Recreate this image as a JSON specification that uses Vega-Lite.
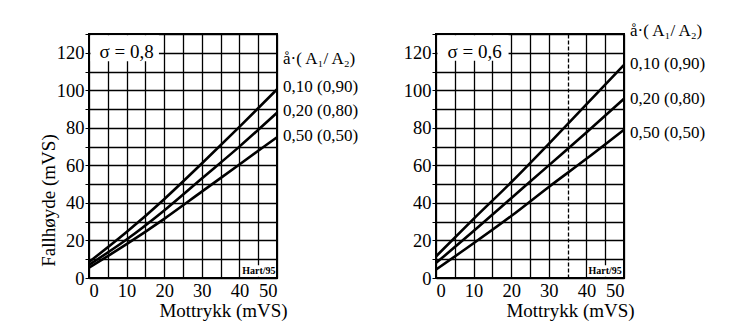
{
  "$schema": "https://vega.github.io/schema/vega-lite/v6.json",
  "background": "white",
  "padding": {"left": 38, "top": 21, "right": 5, "bottom": 5},
  "bounds": "flush",
  "spacing": 159,
  "config": {
    "font": "Liberation Serif",
    "view": {"stroke": "black", "strokeWidth": 2},
    "axis": {
      "labelFont": "Liberation Serif",
      "titleFont": "Liberation Serif",
      "labelFontSize": 18.5,
      "titleFontSize": 19,
      "titleFontWeight": "normal",
      "labelColor": "black",
      "titleColor": "black",
      "gridColor": "black",
      "gridOpacity": 1,
      "gridWidth": 1.3,
      "domain": false,
      "tickColor": "black"
    }
  },
  "datasets": {
    "curves": [
      {"panel": "L", "serie": "0,10 (0,90)", "x": 0, "y": 8.5},
      {"panel": "L", "serie": "0,10 (0,90)", "x": 10, "y": 24.5},
      {"panel": "L", "serie": "0,10 (0,90)", "x": 20, "y": 42},
      {"panel": "L", "serie": "0,10 (0,90)", "x": 30, "y": 61},
      {"panel": "L", "serie": "0,10 (0,90)", "x": 40, "y": 80.5},
      {"panel": "L", "serie": "0,10 (0,90)", "x": 50, "y": 100.5},
      {"panel": "L", "serie": "0,20 (0,80)", "x": 0, "y": 7},
      {"panel": "L", "serie": "0,20 (0,80)", "x": 10, "y": 20.5},
      {"panel": "L", "serie": "0,20 (0,80)", "x": 20, "y": 36},
      {"panel": "L", "serie": "0,20 (0,80)", "x": 30, "y": 53},
      {"panel": "L", "serie": "0,20 (0,80)", "x": 40, "y": 70},
      {"panel": "L", "serie": "0,20 (0,80)", "x": 50, "y": 88},
      {"panel": "L", "serie": "0,50 (0,50)", "x": 0, "y": 5.5},
      {"panel": "L", "serie": "0,50 (0,50)", "x": 10, "y": 18},
      {"panel": "L", "serie": "0,50 (0,50)", "x": 20, "y": 31.5},
      {"panel": "L", "serie": "0,50 (0,50)", "x": 30, "y": 46},
      {"panel": "L", "serie": "0,50 (0,50)", "x": 40, "y": 60.5},
      {"panel": "L", "serie": "0,50 (0,50)", "x": 50, "y": 75},
      {"panel": "R", "serie": "0,10 (0,90)", "x": 0, "y": 11.5},
      {"panel": "R", "serie": "0,10 (0,90)", "x": 10, "y": 31.5},
      {"panel": "R", "serie": "0,10 (0,90)", "x": 20, "y": 51},
      {"panel": "R", "serie": "0,10 (0,90)", "x": 30, "y": 71.5},
      {"panel": "R", "serie": "0,10 (0,90)", "x": 40, "y": 92.5},
      {"panel": "R", "serie": "0,10 (0,90)", "x": 50, "y": 113.5},
      {"panel": "R", "serie": "0,20 (0,80)", "x": 0, "y": 8},
      {"panel": "R", "serie": "0,20 (0,80)", "x": 10, "y": 25},
      {"panel": "R", "serie": "0,20 (0,80)", "x": 20, "y": 42.5},
      {"panel": "R", "serie": "0,20 (0,80)", "x": 30, "y": 60},
      {"panel": "R", "serie": "0,20 (0,80)", "x": 40, "y": 77.5},
      {"panel": "R", "serie": "0,20 (0,80)", "x": 50, "y": 95.5},
      {"panel": "R", "serie": "0,50 (0,50)", "x": 0, "y": 4.5},
      {"panel": "R", "serie": "0,50 (0,50)", "x": 10, "y": 18.5},
      {"panel": "R", "serie": "0,50 (0,50)", "x": 20, "y": 33},
      {"panel": "R", "serie": "0,50 (0,50)", "x": 30, "y": 48.5},
      {"panel": "R", "serie": "0,50 (0,50)", "x": 40, "y": 63.5},
      {"panel": "R", "serie": "0,50 (0,50)", "x": 50, "y": 79}
    ],
    "boxes": [
      {"panel": "L", "x": 0.4, "x2": 18.6, "y": 115.5, "y2": 129.4},
      {"panel": "L", "x": 40.6, "x2": 49.6, "y": 0.6, "y2": 6.8},
      {"panel": "R", "x": 0.4, "x2": 19.3, "y": 115.7, "y2": 129.4},
      {"panel": "R", "x": 40.3, "x2": 49.6, "y": 0.6, "y2": 6.8}
    ],
    "labels": [
      {"panel": "L", "kind": "sigma", "x": 10, "y": 120.5, "text": "σ = 0,8"},
      {"panel": "L", "kind": "hart", "x": 45.2, "y": 3.6, "text": "Hart/95"},
      {"panel": "L", "kind": "lab", "x": 50, "y": 116.5, "text": "å·( A₁/ A₂)"},
      {"panel": "L", "kind": "lab", "x": 50, "y": 101.5, "text": "0,10 (0,90)"},
      {"panel": "L", "kind": "lab", "x": 50, "y": 89, "text": "0,20 (0,80)"},
      {"panel": "L", "kind": "lab", "x": 50, "y": 75.5, "text": "0,50 (0,50)"},
      {"panel": "R", "kind": "sigma", "x": 10.3, "y": 120.5, "text": "σ = 0,6"},
      {"panel": "R", "kind": "hart", "x": 45, "y": 3.6, "text": "Hart/95"},
      {"panel": "R", "kind": "lab", "x": 50, "y": 131.5, "text": "å·( A₁/ A₂)"},
      {"panel": "R", "kind": "lab", "x": 50, "y": 114, "text": "0,10 (0,90)"},
      {"panel": "R", "kind": "lab", "x": 50, "y": 95.5, "text": "0,20 (0,80)"},
      {"panel": "R", "kind": "lab", "x": 50, "y": 77.5, "text": "0,50 (0,50)"}
    ]
  },
  "hconcat": [
    {
      "width": 188,
      "height": 244,
      "encoding": {
        "x": {"field": "x", "type": "quantitative", "scale": {"domain": [0, 50], "nice": false},
          "axis": {"title": "Mottrykk (mVS)", "values": [0,5,10,15,20,25,30,35,40,45,50], "labelExpr": "datum.value % 10 == 0 ? datum.label : ''", "ticks": false, "labelPadding": 3, "titleX": 134, "titleY": 32, "titleBaseline": "middle", "titleAlign": "center"}},
        "y": {"field": "y", "type": "quantitative", "scale": {"domain": [0, 130], "nice": false},
          "axis": {"title": "Fallhøyde (mVS)", "values": [0,10,20,30,40,50,60,70,80,90,100,110,120,130], "labelExpr": "datum.value % 20 == 0 && datum.value <= 120 ? datum.label : ''", "ticks": true, "tickSize": 4, "labelPadding": 1, "titleX": -41, "titleY": 166, "titleBaseline": "middle", "titleAlign": "center", "titleAngle": 270}}
      },
      "layer": [
        {"data": {"name": "boxes"}, "transform": [{"filter": "datum.panel == 'L'"}], "mark": {"type": "rect", "fill": "white"}, "encoding": {"x2": {"field": "x2"}, "y2": {"field": "y2"}}},
        {"data": {"name": "curves"}, "transform": [{"filter": "datum.panel == 'L'"}], "mark": {"type": "line", "color": "black", "strokeWidth": 2.6, "interpolate": "monotone"}, "encoding": {"detail": {"field": "serie"}}},
        {"data": {"name": "labels"}, "transform": [{"filter": "datum.panel == 'L' && datum.kind == 'sigma'"}], "mark": {"type": "text", "fontSize": 19, "align": "center", "baseline": "middle", "color": "black"}, "encoding": {"text": {"field": "text"}}},
        {"data": {"name": "labels"}, "transform": [{"filter": "datum.panel == 'L' && datum.kind == 'hart'"}], "mark": {"type": "text", "fontSize": 10, "fontWeight": "bold", "align": "center", "baseline": "middle", "color": "black"}, "encoding": {"text": {"field": "text"}}},
        {"data": {"name": "labels"}, "transform": [{"filter": "datum.panel == 'L' && datum.kind == 'lab'"}], "mark": {"type": "text", "fontSize": 17, "align": "left", "baseline": "middle", "dx": 6, "color": "black"}, "encoding": {"text": {"field": "text"}}}
      ]
    },
    {
      "width": 188,
      "height": 244,
      "encoding": {
        "x": {"field": "x", "type": "quantitative", "scale": {"domain": [0, 50], "nice": false},
          "axis": {"title": "Mottrykk (mVS)", "values": [0,5,10,15,20,25,30,35,40,45,50], "labelExpr": "datum.value % 10 == 0 ? datum.label : ''", "ticks": false, "labelPadding": 3, "titleX": 134, "titleY": 32, "titleBaseline": "middle", "titleAlign": "center",
            "gridDash": {"condition": {"test": "datum.value == 35", "value": [4, 2]}, "value": []}}},
        "y": {"field": "y", "type": "quantitative", "scale": {"domain": [0, 130], "nice": false},
          "axis": {"title": null, "values": [0,10,20,30,40,50,60,70,80,90,100,110,120,130], "labelExpr": "datum.value % 20 == 0 && datum.value <= 120 ? datum.label : ''", "ticks": true, "tickSize": 4, "labelPadding": 1}}
      },
      "layer": [
        {"data": {"name": "boxes"}, "transform": [{"filter": "datum.panel == 'R'"}], "mark": {"type": "rect", "fill": "white"}, "encoding": {"x2": {"field": "x2"}, "y2": {"field": "y2"}}},
        {"data": {"name": "curves"}, "transform": [{"filter": "datum.panel == 'R'"}], "mark": {"type": "line", "color": "black", "strokeWidth": 2.6, "interpolate": "monotone"}, "encoding": {"detail": {"field": "serie"}}},
        {"data": {"name": "labels"}, "transform": [{"filter": "datum.panel == 'R' && datum.kind == 'sigma'"}], "mark": {"type": "text", "fontSize": 19, "align": "center", "baseline": "middle", "color": "black"}, "encoding": {"text": {"field": "text"}}},
        {"data": {"name": "labels"}, "transform": [{"filter": "datum.panel == 'R' && datum.kind == 'hart'"}], "mark": {"type": "text", "fontSize": 10, "fontWeight": "bold", "align": "center", "baseline": "middle", "color": "black"}, "encoding": {"text": {"field": "text"}}},
        {"data": {"name": "labels"}, "transform": [{"filter": "datum.panel == 'R' && datum.kind == 'lab'"}], "mark": {"type": "text", "fontSize": 17, "align": "left", "baseline": "middle", "dx": 6, "color": "black"}, "encoding": {"text": {"field": "text"}}}
      ]
    }
  ]
}
